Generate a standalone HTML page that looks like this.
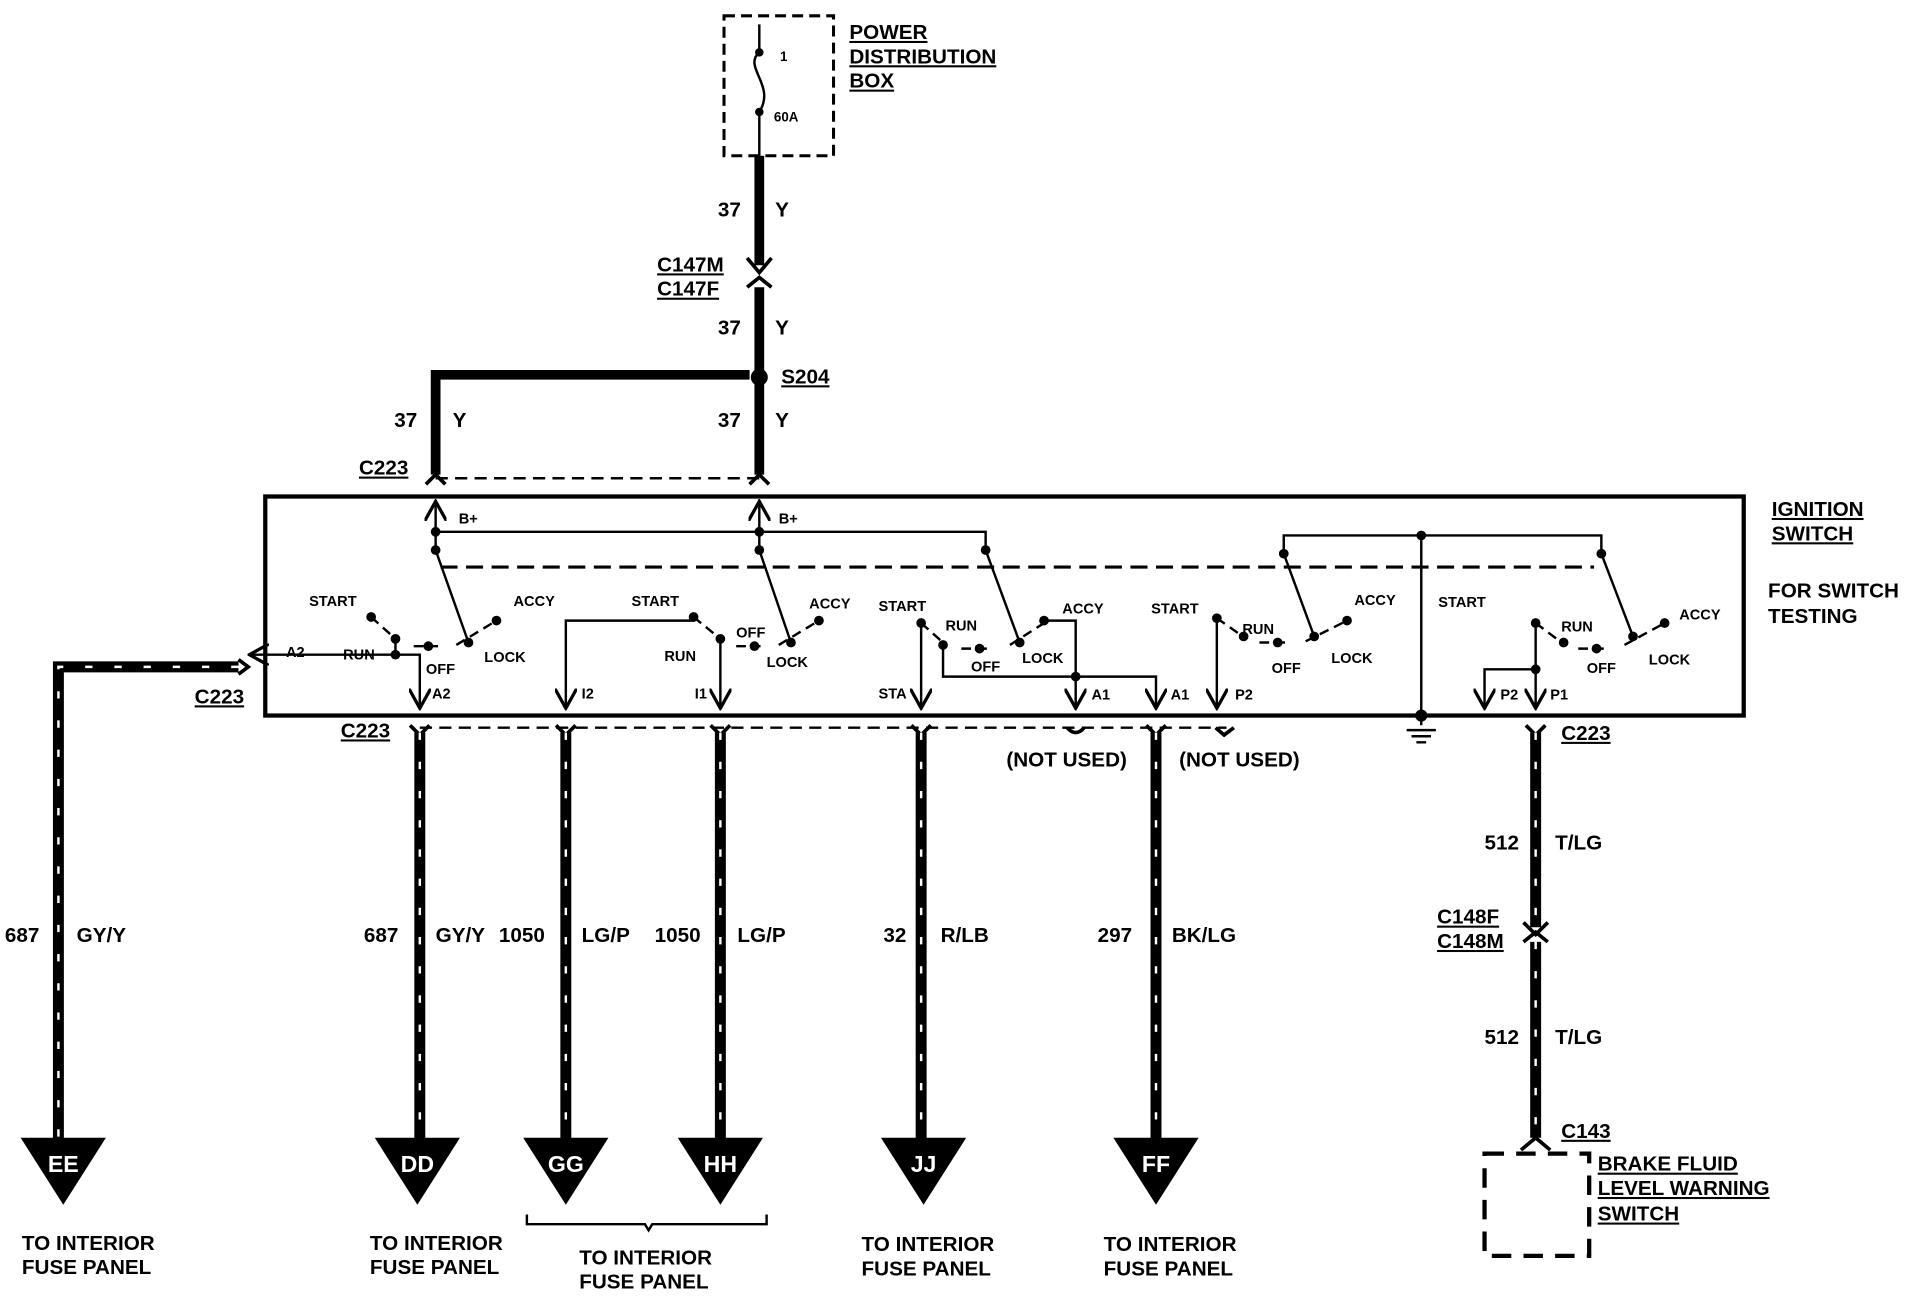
<!DOCTYPE html>
<html><head><style>html,body{margin:0;padding:0;background:#fff}svg{display:block}text{font-family:"Liberation Sans",sans-serif;font-weight:bold;fill:#000}text.w{fill:#fff !important}</style></head>
<body>
<svg width="1908" height="1296" viewBox="0 0 1568 1065" preserveAspectRatio="none" xmlns="http://www.w3.org/2000/svg">
<defs>
<marker id="ah" viewBox="0 0 10 10" refX="9" refY="5" markerWidth="9" markerHeight="9" orient="auto"><path d="M0,0 L9,5 L0,10" fill="none" stroke="#000" stroke-width="1.5"/></marker>
</defs>
<!-- Power distribution box -->
<rect x="595" y="13" width="90" height="115" fill="none" stroke="#000" stroke-width="2.5" stroke-dasharray="9,5"/>
<path d="M624 20 V43 M624 92 V128 M624 43 C610 55,638 70,624 92" fill="none" stroke="#000" stroke-width="2"/>
<circle cx="624" cy="43" r="3.5"/><circle cx="624" cy="92" r="3.5"/>
<text x="641" y="50" font-size="11">1</text><text x="636" y="100" font-size="11">60A</text>
<g font-size="17" text-decoration="underline"><text x="698" y="32">POWER</text><text x="698" y="52">DISTRIBUTION</text><text x="698" y="72">BOX</text></g>
<!-- upper wires -->
<g stroke="#000" stroke-width="8" fill="none">
<path d="M624 128 V218"/><path d="M624 236 V305"/><path d="M624 314 V390"/>
<path d="M358 308 H616 M358 304 V390"/>
</g>
<path d="M614 212 L624 224 L634 212 M614 236 L624 228 L634 236" stroke="#000" stroke-width="3" fill="none"/>
<circle cx="624" cy="310" r="7"/>
<g font-size="17">
<text x="590" y="178">37</text><text x="637" y="178">Y</text>
<text x="590" y="275">37</text><text x="637" y="275">Y</text>
<text x="324" y="351">37</text><text x="372" y="351">Y</text>
<text x="590" y="351">37</text><text x="637" y="351">Y</text>
<g text-decoration="underline"><text x="540" y="223">C147M</text><text x="540" y="243">C147F</text><text x="642" y="315">S204</text><text x="295" y="390">C223</text></g>
</g>
<path d="M358 393 H624" stroke="#000" stroke-width="2" stroke-dasharray="10,6"/>
<path d="M350 398 L358 390 L366 398 M616 398 L624 390 L632 398" stroke="#000" stroke-width="3" fill="none"/>
<!-- ignition switch box -->
<rect x="218" y="408" width="1215" height="180" fill="none" stroke="#000" stroke-width="3.5"/>
<g font-size="17"><text x="1456" y="424" text-decoration="underline">IGNITION</text><text x="1456" y="444" text-decoration="underline">SWITCH</text>
<text x="1453" y="491" font-weight="normal">FOR SWITCH</text><text x="1453" y="512" font-weight="normal">TESTING</text></g>
<g stroke="#000" stroke-width="2" fill="none">
<path d="M358 452 V412" marker-end="url(#ah)"/><path d="M624 452 V412" marker-end="url(#ah)"/>
<path d="M358 437 H810 V452"/>
<path d="M1055 455 V440 H1316 V455 M1168 440 V596"/>
<path d="M362 466 H1310" stroke-dasharray="14,7" stroke-width="2.5"/>
<path d="M358 452 L385 528 M624 452 L650 528 M810 452 L838 528 M1055 455 L1080 523 M1316 455 L1342 523"/>
<path d="M305 507 L325 525 M340 531 L360 531 M375 530 L408 510" stroke-dasharray="8,5"/>
<path d="M570 507 L592 525 M605 531 L625 531 M640 530 L673 510" stroke-dasharray="8,5"/>
<path d="M757 512 L775 528 M790 533 L815 533 M830 530 L858 512" stroke-dasharray="8,5"/>
<path d="M1000 508 L1020 522 M1035 528 L1060 528 M1073 527 L1107 510" stroke-dasharray="8,5"/>
<path d="M1262 512 L1282 527 M1297 533 L1322 533 M1335 530 L1368 512" stroke-dasharray="8,5"/>
<path d="M325 525 V538 H205" marker-end="url(#ah)"/>
<path d="M325 538 H345 V582" marker-end="url(#ah)"/>
<path d="M570 510 H465 V582" marker-end="url(#ah)"/>
<path d="M592 527 V582" marker-end="url(#ah)"/>
<path d="M757 512 V582" marker-end="url(#ah)"/>
<path d="M775 530 V556 H950 V582" marker-end="url(#ah)"/>
<path d="M858 510 H884 V582" marker-end="url(#ah)"/>
<path d="M1000 508 V582" marker-end="url(#ah)"/>
<path d="M1262 512 V582" marker-end="url(#ah)"/>
<path d="M1262 550 H1220 V582" marker-end="url(#ah)"/>
</g>
<g>
<circle cx="358" cy="437" r="4"/><circle cx="358" cy="452" r="4"/><circle cx="624" cy="437" r="4"/><circle cx="624" cy="452" r="4"/><circle cx="810" cy="452" r="4"/>
<circle cx="1055" cy="455" r="4"/><circle cx="1316" cy="455" r="4"/><circle cx="1168" cy="440" r="4"/><circle cx="1168" cy="588" r="5"/>
<circle cx="305" cy="507" r="4"/><circle cx="325" cy="525" r="4"/><circle cx="352" cy="531" r="4"/><circle cx="385" cy="528" r="4"/><circle cx="408" cy="510" r="4"/>
<circle cx="570" cy="507" r="4"/><circle cx="592" cy="525" r="4"/><circle cx="620" cy="531" r="4"/><circle cx="650" cy="528" r="4"/><circle cx="673" cy="510" r="4"/>
<circle cx="757" cy="512" r="4"/><circle cx="775" cy="530" r="4"/><circle cx="805" cy="533" r="4"/><circle cx="838" cy="528" r="4"/><circle cx="858" cy="510" r="4"/>
<circle cx="1000" cy="508" r="4"/><circle cx="1022" cy="523" r="4"/><circle cx="1050" cy="528" r="4"/><circle cx="1080" cy="523" r="4"/><circle cx="1107" cy="510" r="4"/>
<circle cx="1262" cy="512" r="4"/><circle cx="1285" cy="528" r="4"/><circle cx="1312" cy="533" r="4"/><circle cx="1342" cy="523" r="4"/><circle cx="1368" cy="512" r="4"/>
<circle cx="325" cy="538" r="4"/><circle cx="884" cy="556" r="4"/><circle cx="1262" cy="550" r="4"/>
</g>
<path d="M1156 600 H1180 M1160 605 H1176 M1164 610 H1172" stroke="#000" stroke-width="2"/>
<g font-size="12" font-weight="normal">
<text x="377" y="430">B+</text><text x="640" y="430">B+</text>
<text x="254" y="498">START</text><text x="422" y="498">ACCY</text><text x="282" y="542">RUN</text><text x="350" y="554">OFF</text><text x="398" y="544">LOCK</text><text x="235" y="540">A2</text><text x="355" y="574">A2</text>
<text x="519" y="498">START</text><text x="665" y="500">ACCY</text><text x="546" y="543">RUN</text><text x="605" y="524">OFF</text><text x="630" y="548">LOCK</text><text x="478" y="574">I2</text><text x="571" y="574">I1</text>
<text x="722" y="502">START</text><text x="873" y="504">ACCY</text><text x="777" y="518">RUN</text><text x="798" y="552">OFF</text><text x="840" y="545">LOCK</text><text x="722" y="574">STA</text><text x="897" y="575">A1</text><text x="962" y="575">A1</text>
<text x="946" y="504">START</text><text x="1113" y="497">ACCY</text><text x="1021" y="521">RUN</text><text x="1045" y="553">OFF</text><text x="1094" y="545">LOCK</text><text x="1015" y="575">P2</text>
<text x="1182" y="499">START</text><text x="1380" y="509">ACCY</text><text x="1283" y="519">RUN</text><text x="1304" y="553">OFF</text><text x="1355" y="546">LOCK</text><text x="1233" y="575">P2</text><text x="1274" y="575">P1</text>
</g>
<path d="M345 598 H1008" stroke="#000" stroke-width="2" stroke-dasharray="10,6"/>
<path d="M337 596 L345 604 L353 596 M457 596 L465 604 L473 596 M584 596 L592 604 L600 596 M749 596 L757 604 L765 596 M942 596 L950 604 L958 596 M877 598 Q884 606 891 598 M999 598 L1006 604 L1014 598 M1254 596 L1262 604 L1270 596" stroke="#000" stroke-width="3" fill="none"/>
<path d="M196 542 L204 548 L196 554" stroke="#000" stroke-width="3" fill="none"/>
<g fill="none">
<g stroke="#000" stroke-width="9">
<path d="M196 548 H48 V940"/><path d="M345 602 V940"/><path d="M465 602 V940"/><path d="M592 602 V940"/><path d="M757 602 V940"/><path d="M950 602 V940"/><path d="M1262 602 V762"/><path d="M1262 774 V935"/>
</g>
<g stroke="#fff" stroke-width="2" stroke-dasharray="6,18">
<path d="M196 548 H48 V940"/><path d="M345 602 V940"/><path d="M465 602 V940"/><path d="M592 602 V940"/><path d="M757 602 V940"/><path d="M950 602 V940"/><path d="M1262 602 V762"/><path d="M1262 774 V935"/>
</g>
</g>
<path d="M1252 758 L1262 768 L1272 758 M1252 774 L1262 766 L1272 774 M1250 945 L1262 935 L1274 945" stroke="#000" stroke-width="3" fill="none"/>
<g>
<polygon points="17,935 87,935 52,990"/><polygon points="308,935 378,935 343,990"/><polygon points="430,935 500,935 465,990"/><polygon points="557,935 627,935 592,990"/><polygon points="724,935 794,935 759,990"/><polygon points="915,935 985,935 950,990"/>
</g>
<g font-size="19" text-anchor="middle"><text class="w" x="52" y="963">EE</text><text class="w" x="343" y="963">DD</text><text class="w" x="465" y="963">GG</text><text class="w" x="592" y="963">HH</text><text class="w" x="759" y="963">JJ</text><text class="w" x="950" y="963">FF</text></g>
<g font-size="17">
<text x="4" y="774">687</text><text x="63" y="774">GY/Y</text>
<text x="299" y="774">687</text><text x="358" y="774">GY/Y</text>
<text x="410" y="774">1050</text><text x="478" y="774">LG/P</text>
<text x="538" y="774">1050</text><text x="606" y="774">LG/P</text>
<text x="726" y="774">32</text><text x="773" y="774">R/LB</text>
<text x="902" y="774">297</text><text x="963" y="774">BK/LG</text>
<text x="827" y="630">(NOT USED)</text><text x="969" y="630">(NOT USED)</text>
<text x="1220" y="698">512</text><text x="1278" y="698">T/LG</text>
<text x="1220" y="858">512</text><text x="1278" y="858">T/LG</text>
<g text-decoration="underline"><text x="160" y="578">C223</text><text x="280" y="606">C223</text><text x="1283" y="608">C223</text>
<text x="1181" y="759">C148F</text><text x="1181" y="779">C148M</text><text x="1283" y="935">C143</text>
<text x="1313" y="962">BRAKE FLUID</text><text x="1313" y="982">LEVEL WARNING</text><text x="1313" y="1003">SWITCH</text></g>
<text x="18" y="1027">TO INTERIOR</text><text x="18" y="1047">FUSE PANEL</text>
<text x="304" y="1027">TO INTERIOR</text><text x="304" y="1047">FUSE PANEL</text>
<text x="476" y="1039">TO INTERIOR</text><text x="476" y="1059">FUSE PANEL</text>
<text x="708" y="1028">TO INTERIOR</text><text x="708" y="1048">FUSE PANEL</text>
<text x="907" y="1028">TO INTERIOR</text><text x="907" y="1048">FUSE PANEL</text>
</g>
<rect x="1220" y="948" width="86" height="84" fill="none" stroke="#000" stroke-width="3.5" stroke-dasharray="16,10"/>
<path d="M433 998 V1006 H530 L533 1011 L536 1006 H630 V998" stroke="#000" stroke-width="2" fill="none"/>
</svg>
</body></html>
